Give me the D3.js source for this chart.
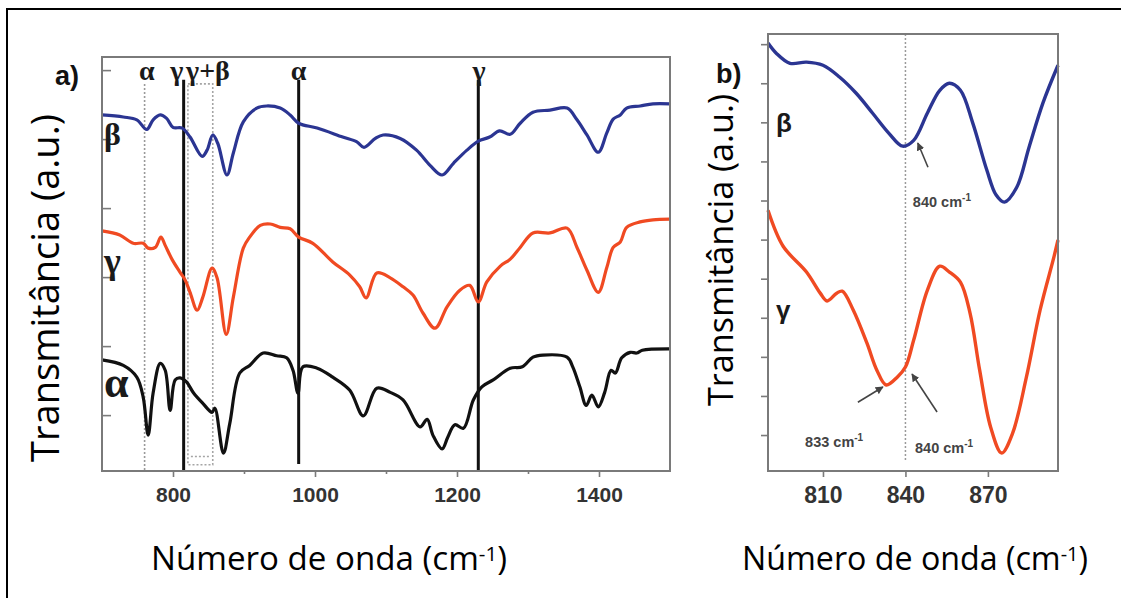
<!DOCTYPE html>
<html>
<head>
<meta charset="utf-8">
<script src="https://cdn.jsdelivr.net/npm/d3@7"></script>
<style>
  body { margin: 0; background: #fff; }
  svg { display: block; }
</style>
</head>
<body>
<svg id="chart" width="1121" height="598"></svg>
<script>
// ---------- Panel a) FTIR spectra, 700–1500 cm-1 (offset transmittance, a.u.) ----------
const betaWnA = [700,730,749,763,772,782,791,800,813,824,841,848,856,863,876,885,899,918,932,951,965,977,1003,1039,1059,1069,1085,1096,1120,1143,1162,1179,1195,1214,1230,1246,1260,1275,1289,1307,1331,1355,1369,1383,1399,1411,1420,1430,1439,1458,1476,1500];
const betaTA  = [5.35,5.32,5.28,5.14,5.28,5.35,5.30,5.17,5.16,5.03,4.75,4.84,5.06,4.94,4.48,4.80,5.25,5.45,5.48,5.45,5.35,5.23,5.16,5.03,4.96,4.88,5.01,5.06,5.01,4.84,4.62,4.48,4.65,4.84,4.97,5.03,5.12,5.07,5.23,5.39,5.42,5.45,5.28,5.06,4.81,5.09,5.29,5.35,5.45,5.48,5.51,5.51];

const gammaWnA = [700,725,744,758,765,775,783,789,799,810,817,824,834,842,855,862,875,885,899,908,923,937,951,965,977,997,1025,1049,1063,1072,1087,1106,1124,1138,1152,1169,1186,1204,1218,1230,1242,1261,1275,1289,1307,1331,1355,1369,1383,1399,1411,1420,1430,1439,1458,1476,1500];
const gammaTA  = [3.67,3.61,3.49,3.49,3.42,3.43,3.58,3.46,3.25,3.07,2.96,2.78,2.52,2.71,3.13,2.99,2.17,2.71,3.42,3.58,3.75,3.77,3.72,3.70,3.58,3.49,3.22,3.03,2.86,2.70,3.06,2.99,2.86,2.74,2.48,2.26,2.57,2.81,2.88,2.64,2.93,3.16,3.26,3.43,3.64,3.64,3.71,3.43,3.10,2.78,3.14,3.43,3.51,3.72,3.80,3.83,3.84];

const alphaWnA = [700,730,749,758,765,772,782,789,796,803,810,819,829,842,855,859,871,880,894,908,927,946,960,969,976,983,1003,1025,1049,1068,1087,1106,1124,1148,1158,1166,1179,1187,1197,1209,1223,1235,1251,1275,1292,1307,1321,1355,1363,1373,1382,1390,1399,1408,1417,1423,1432,1444,1453,1461,1500];
const alphaTA  = [1.80,1.72,1.55,1.26,0.71,1.32,1.75,1.65,1.07,1.51,1.54,1.48,1.32,1.17,1.04,1.10,0.45,0.88,1.61,1.72,1.90,1.86,1.83,1.65,1.32,1.70,1.68,1.55,1.36,0.99,1.39,1.33,1.22,0.83,0.94,0.71,0.51,0.68,0.86,0.81,1.22,1.41,1.51,1.68,1.70,1.84,1.87,1.84,1.70,1.41,1.14,1.29,1.12,1.33,1.65,1.61,1.83,1.91,1.90,1.94,1.96];

const xTicksA      = [800, 1000, 1200, 1400];
const xMinorTicksA = [900, 1100, 1300];
const yTicksA      = [1, 2, 3, 4, 5, 6];

// band assignment markers
const solidBands   = [815, 977, 1230];
const dottedBands  = [760];
const boxBand      = [821, 856];
const bandLabels   = ["α", "γ", "γ+β", "α", "γ"];
const bandLabelWn  = [763, 816, 817, 977, 1231];

// ---------- Panel b) zoom 790–895 cm-1 ----------
const betaWnB = [790,793,798,804,810,816,822,828,834,839,843,848,852.5,856,860,864.5,869.6,873,876,880.5,885,890,895.5];
const betaTB  = [11.03,10.77,10.51,10.54,10.46,10.16,9.75,9.24,8.72,8.39,8.54,9.24,9.82,10.00,9.82,8.98,7.78,7.14,6.96,7.34,8.37,9.49,10.46];

const gammaWnB = [790,795.5,804,809,811.5,815,817,821,826,829.6,833,837,840,843,848,852.5,856,860,863.5,867,871,875,879,884,889,894,895.5];
const gammaTB  = [6.75,5.83,5.17,4.63,4.43,4.63,4.68,4.20,3.35,2.66,2.28,2.48,2.74,3.43,4.71,5.32,5.17,4.91,4.12,2.66,1.20,0.54,1.05,2.48,4.20,5.55,5.99];

const xTicksB = [810, 840, 870];
const yTicksB = [1,2,3,4,5,6,7,8,9,10,11];

// peak annotations: [label, arrow tail wn, tail T, arrow tip wn, tip T, text wn, text T]
const peakNotes = [
  ["840", 848.2, 7.85, 844.5, 8.47, 842.7, 6.83],
  ["833", 822.7, 1.84, 831.8, 2.23, 803.5, 0.69],
  ["840", 851.5, 1.59, 842.4, 2.56, 843.5, 0.54]
];

const COLORS = { beta: "#2b3592", gamma: "#f04a22", alpha: "#111111" };

const svg = d3.select("#chart");

// outer border
svg.append("rect")
  .attr("x", 7).attr("y", 9).attr("width", 1140).attr("height", 620)
  .attr("fill", "none").attr("stroke", "#000").attr("stroke-width", 2);

const zip = (xs, ys) => xs.map((x, i) => [x, ys[i]]);

// ================= Panel a =================
const A = { left: 102, right: 670, top: 57, bottom: 471 };
const xA = d3.scaleLinear().domain([700, 1500]).range([A.left, A.right]);
const yA = d3.scaleLinear().domain([0.19, 6.19]).range([A.bottom, A.top]);

const gA = svg.append("g");

// marker lines
dottedBands.forEach(w => {
  gA.append("line")
    .attr("x1", xA(w)).attr("x2", xA(w))
    .attr("y1", yA(5.8)).attr("y2", A.bottom)
    .attr("stroke", "#9a9a9a").attr("stroke-width", 1.6).attr("stroke-dasharray", "2,2");
});
// dotted box around the γ+β region
gA.append("rect")
  .attr("x", xA(boxBand[0])).attr("y", yA(5.8))
  .attr("width", xA(boxBand[1]) - xA(boxBand[0]))
  .attr("height", yA(0.28) - yA(5.8))
  .attr("fill", "none").attr("stroke", "#a5a5a5").attr("stroke-width", 1.6).attr("stroke-dasharray", "2,2");
gA.append("line")
  .attr("x1", xA(boxBand[0]) + 3).attr("x2", xA(boxBand[1]) - 3)
  .attr("y1", yA(0.4)).attr("y2", yA(0.4))
  .attr("stroke", "#a5a5a5").attr("stroke-width", 1.4).attr("stroke-dasharray", "2,2");

solidBands.forEach((w, i) => {
  gA.append("line")
    .attr("x1", xA(w)).attr("x2", xA(w))
    .attr("y1", yA(5.86)).attr("y2", i === 1 ? yA(0.29) : A.bottom)
    .attr("stroke", "#111").attr("stroke-width", 3);
});

// spectra
const lineA = d3.line().x(d => xA(d[0])).y(d => yA(d[1])).curve(d3.curveCatmullRom.alpha(0.5));
[[betaWnA, betaTA, COLORS.beta], [gammaWnA, gammaTA, COLORS.gamma], [alphaWnA, alphaTA, COLORS.alpha]]
  .forEach(([xs, ys, c]) => {
    gA.append("path").datum(zip(xs, ys))
      .attr("d", lineA).attr("fill", "none")
      .attr("stroke", c).attr("stroke-width", 3.2).attr("stroke-linejoin", "round");
  });

// axes
const axA = gA.append("g").attr("transform", `translate(0,${A.bottom})`)
  .call(d3.axisBottom(xA).tickValues(xTicksA).tickSize(6).tickPadding(10).tickFormat(d3.format("d")));
gA.append("g").attr("transform", `translate(0,${A.bottom})`)
  .call(d3.axisBottom(xA).tickValues(xMinorTicksA).tickSize(3).tickFormat(""));
gA.append("g").attr("transform", `translate(${A.left},0)`)
  .call(d3.axisRight(yA).tickValues(yTicksA).tickSize(9).tickFormat(""));
gA.selectAll(".domain").remove();
gA.selectAll(".tick line").attr("stroke", "#7a7a7a").attr("stroke-width", 1.6);
axA.selectAll("text")
  .attr("font-family", "Liberation Sans, Arial, sans-serif")
  .attr("font-weight", "bold").attr("font-size", 21).attr("fill", "#333");

gA.append("rect")
  .attr("x", A.left).attr("y", A.top)
  .attr("width", A.right - A.left).attr("height", A.bottom - A.top)
  .attr("fill", "none").attr("stroke", "#7a7a7a").attr("stroke-width", 2);

// band labels along the top
const anchors = ["middle", "end", "start", "middle", "middle"];
bandLabels.forEach((t, i) => {
  gA.append("text")
    .attr("x", xA(bandLabelWn[i]) + (i === 1 ? -1 : i === 2 ? 1 : 0))
    .attr("y", 80)
    .attr("text-anchor", anchors[i])
    .attr("font-family", "Liberation Serif, Times New Roman, serif")
    .attr("font-weight", "bold").attr("font-size", 28).attr("fill", "#1a1a1a")
    .text(t);
});

// phase labels
const phaseA = [["β", 145, 32], ["γ", 273, 36], ["α", 397, 44]];
phaseA.forEach(([t, y, fs]) => {
  gA.append("text").attr("x", A.left + 2).attr("y", y)
    .attr("font-family", "Liberation Serif, Times New Roman, serif")
    .attr("font-weight", "bold").attr("font-size", fs).attr("fill", "#1a1a1a").text(t);
});

svg.append("text").attr("x", 55).attr("y", 85)
  .attr("font-family", "Liberation Sans, Arial, sans-serif")
  .attr("font-weight", "bold").attr("font-size", 27).attr("fill", "#111").text("a)");

// ================= Panel b =================
const B = { left: 768, right: 1058, top: 34, bottom: 471 };
const xB = d3.scaleLinear().domain([790, 895.5]).range([B.left, B.right]);
const yB = d3.scaleLinear().domain([0.08, 11.26]).range([B.bottom, B.top]);

const gB = svg.append("g");

gB.append("line")
  .attr("x1", xB(840)).attr("x2", xB(840))
  .attr("y1", B.top).attr("y2", yB(0.36))
  .attr("stroke", "#9a9a9a").attr("stroke-width", 1.5).attr("stroke-dasharray", "2,2");

const lineB = d3.line().x(d => xB(d[0])).y(d => yB(d[1])).curve(d3.curveCatmullRom.alpha(0.5));
[[betaWnB, betaTB, COLORS.beta], [gammaWnB, gammaTB, COLORS.gamma]].forEach(([xs, ys, c]) => {
  gB.append("path").datum(zip(xs, ys))
    .attr("d", lineB).attr("fill", "none")
    .attr("stroke", c).attr("stroke-width", 3.4).attr("stroke-linejoin", "round");
});

const axB = gB.append("g").attr("transform", `translate(0,${B.bottom})`)
  .call(d3.axisBottom(xB).tickValues(xTicksB).tickSize(6).tickPadding(10).tickFormat(d3.format("d")));
gB.append("g").attr("transform", `translate(${B.left},0)`)
  .call(d3.axisLeft(yB).tickValues(yTicksB).tickSize(7).tickFormat(""));
gB.selectAll(".domain").remove();
gB.selectAll(".tick line").attr("stroke", "#7a7a7a").attr("stroke-width", 1.6);
axB.selectAll("text")
  .attr("font-family", "Liberation Sans, Arial, sans-serif")
  .attr("font-weight", "bold").attr("font-size", 23).attr("fill", "#333");

gB.append("rect")
  .attr("x", B.left).attr("y", B.top)
  .attr("width", B.right - B.left).attr("height", B.bottom - B.top)
  .attr("fill", "none").attr("stroke", "#7a7a7a").attr("stroke-width", 2);

// arrows and peak labels
svg.append("defs").append("marker")
  .attr("id", "arrowhead").attr("viewBox", "0 0 10 10")
  .attr("refX", 9).attr("refY", 5).attr("markerWidth", 5).attr("markerHeight", 5)
  .attr("orient", "auto")
  .append("path").attr("d", "M0,0 L10,5 L0,10 z").attr("fill", "#444");

peakNotes.forEach(([lab, tw, tt, hw, ht, xw, xt]) => {
  gB.append("line")
    .attr("x1", xB(tw)).attr("y1", yB(tt)).attr("x2", xB(hw)).attr("y2", yB(ht))
    .attr("stroke", "#444").attr("stroke-width", 1.6).attr("marker-end", "url(#arrowhead)");
  const t = gB.append("text").attr("x", xB(xw)).attr("y", yB(xt))
    .attr("font-family", "Liberation Sans, Arial, sans-serif")
    .attr("font-weight", "bold").attr("font-size", 14.5).attr("fill", "#444");
  t.append("tspan").text(lab + " cm");
  t.append("tspan").attr("dy", -6).attr("font-size", 10).text("-1");
});

const phaseB = [["β", 132], ["γ", 319]];
phaseB.forEach(([t, y]) => {
  gB.append("text").attr("x", B.left + 8).attr("y", y)
    .attr("font-family", "Liberation Sans, Arial, sans-serif")
    .attr("font-weight", "bold").attr("font-size", 26).attr("fill", "#1a1a1a").text(t);
});

svg.append("text").attr("x", 716).attr("y", 83)
  .attr("font-family", "Liberation Sans, Arial, sans-serif")
  .attr("font-weight", "bold").attr("font-size", 27).attr("fill", "#111").text("b)");

// ================= axis titles =================
function fitText(sel, target) {
  const len = sel.node().getComputedTextLength();
  const fs = parseFloat(sel.attr("font-size"));
  sel.attr("font-size", fs * target / len);
}
function xTitle(cx, width) {
  const t = svg.append("text").attr("x", cx).attr("y", 570).attr("text-anchor", "middle")
    .attr("font-family", "Open Sans, sans-serif").attr("font-size", 30).attr("fill", "#000");
  t.append("tspan").text("Número de onda (cm");
  t.append("tspan").attr("dy", "-0.45em").attr("font-size", "0.62em").text("-1");
  t.append("tspan").attr("dy", "0.28em").text(")");
  fitText(t, width);
}
function yTitle(cx, cy, width) {
  const t = svg.append("text").attr("transform", `translate(${cx},${cy}) rotate(-90)`)
    .attr("text-anchor", "middle").attr("dy", "0.35em")
    .attr("font-family", "Open Sans, sans-serif").attr("font-size", 30).attr("fill", "#000")
    .text("Transmitância (a.u.)");
  fitText(t, width);
}
xTitle(329, 356);
xTitle(915, 346);
yTitle(46, 288, 348);
yTitle(721, 250, 312);
</script>
</body>
</html>
